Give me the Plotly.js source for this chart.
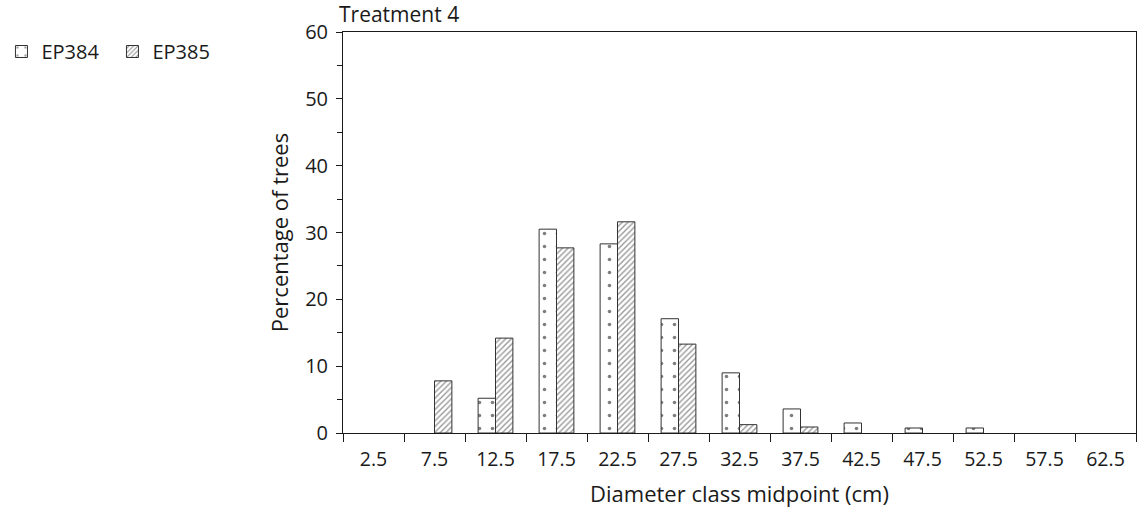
<!DOCTYPE html>
<html>
<head>
<meta charset="utf-8">
<script src="https://cdn.plot.ly/plotly-3.0.1.min.js"></script>
<style>
  html, body { margin: 0; padding: 0; background: #fff; }
  #chart { width: 1144px; height: 518px; }
</style>
</head>
<body>
<div id="chart"></div>
<script>
// Diameter class midpoints (cm)
const categories = ['2.5', '7.5', '12.5', '17.5', '22.5', '27.5', '32.5', '37.5', '42.5', '47.5', '52.5', '57.5', '62.5'];
// Percentage of trees per diameter class
const ep384 = [0, 0, 5.2, 30.5, 28.3, 17.1, 9.0, 3.6, 1.5, 0.75, 0.75, 0, 0];
const ep385 = [0, 7.8, 14.2, 27.7, 31.6, 13.3, 1.25, 0.9, 0, 0, 0, 0, 0];
const yTickVals = [0, 10, 20, 30, 40, 50, 60];

const FONT = 'Open Sans, Noto Sans, sans-serif';
const INK = '#1a1a1a';
// empty classes are not drawn as bars (avoid a zero-height outline)
const hideZero = v => (v === 0 ? null : v);

const traces = [
  {
    type: 'bar', name: 'EP384', x: categories, y: ep384.map(hideZero),
    marker: {
      color: 'white',
      line: { color: '#333', width: 1 },
      pattern: { shape: '.', fillmode: 'overlay', fgcolor: '#000', bgcolor: 'white', size: 13, solidity: 0.06 }
    }
  },
  {
    type: 'bar', name: 'EP385', x: categories, y: ep385.map(hideZero),
    marker: {
      color: 'white',
      line: { color: '#333', width: 1 },
      pattern: { shape: '/', fillmode: 'overlay', fgcolor: '#333', bgcolor: 'white', size: 4, solidity: 0.35 }
    }
  }
];

const layout = {
  width: 1144, height: 518,
  margin: { l: 343, r: 8, t: 32, b: 85, autoexpand: false },
  paper_bgcolor: 'white', plot_bgcolor: 'white',
  font: { family: FONT, color: INK, size: 20 },
  barmode: 'group', bargap: 0.43, bargroupgap: 0,
  showlegend: true,
  legend: {
    orientation: 'h', x: -0.4307, xanchor: 'left', y: 1.0, yanchor: 'top',
    font: { family: FONT, size: 20, color: INK },
    entrywidth: 66, entrywidthmode: 'pixels',
    itemclick: false, bgcolor: 'rgba(0,0,0,0)'
  },
  xaxis: {
    type: 'category', automargin: false,
    tickson: 'boundaries', ticks: 'outside', ticklen: 8, tickcolor: INK, tickwidth: 1,
    showline: true, linecolor: INK, linewidth: 1, mirror: true,
    showgrid: false, zeroline: false,
    ticklabelstandoff: 9,
    tickfont: { family: FONT, size: 19.5, color: INK },
    title: { text: 'Diameter class midpoint (cm)', font: { family: FONT, size: 22, color: INK }, standoff: 15 }
  },
  yaxis: {
    range: [0, 60], tickvals: yTickVals, automargin: false,
    ticks: 'outside', ticklen: 6, tickcolor: INK, tickwidth: 1,
    minor: { dtick: 5, tick0: 0, ticks: 'outside', ticklen: 5, tickcolor: INK, showgrid: false },
    showline: true, linecolor: INK, linewidth: 1, mirror: true,
    showgrid: false, zeroline: false,
    ticklabelstandoff: 4,
    tickfont: { family: FONT, size: 20, color: INK },
    title: { text: 'Percentage of trees', font: { family: FONT, size: 22, color: INK }, standoff: 10 }
  },
  annotations: [
    {
      text: 'Treatment 4', xref: 'paper', yref: 'paper', x: 0, y: 1,
      xanchor: 'left', yanchor: 'bottom', showarrow: false, xshift: -6, yshift: 2,
      font: { family: FONT, size: 21, color: INK }
    }
  ]
};

Plotly.newPlot('chart', traces, layout, { displayModeBar: false, staticPlot: true });
</script>
</body>
</html>
